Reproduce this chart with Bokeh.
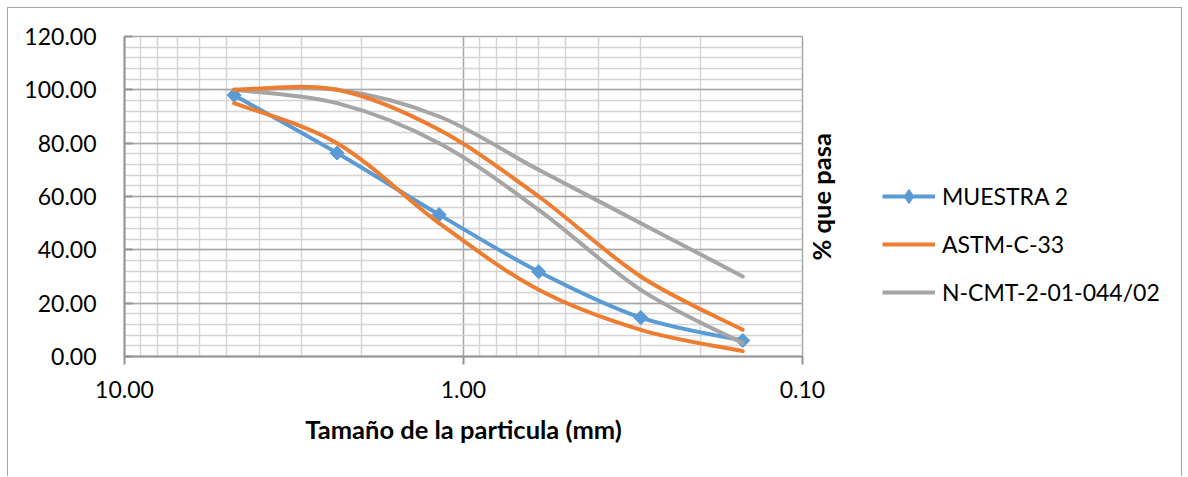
import math

import numpy as np
from bokeh.plotting import figure
from bokeh.layouts import row
from bokeh.models import (Range1d, FixedTicker, NumeralTickFormatter, ColumnDataSource,
                          Legend, LegendItem, LinearAxis)
from bokeh.embed import file_html
from bokeh.resources import INLINE

# Aberturas de malla (mm) y porcentajes que pasan
tamiz_mm = [4.75, 2.36, 1.18, 0.60, 0.30, 0.15]
muestra_2 = [98.0, 76.3, 53.2, 31.8, 14.6, 6.0]
astm_sup = [100, 100, 85, 60, 30, 10]
astm_inf = [95, 80, 50, 25, 10, 2]
ncmt_sup = [100, 100, 90, 70, 50, 30]
ncmt_inf = [100, 95, 80, 55, 25, 5]

x_ticks = [10, 1, 0.1]
x_minor = [k * d for d in (1, 0.1) for k in range(2, 10)]
y_ticks = list(range(0, 121, 20))
y_minor = list(range(0, 121, 4))

AZUL = "#5B9BD5"
NARANJA = "#ED7D31"
GRIS = "#A5A5A5"
BORDE = "1px solid #A6A6A6"
FUENTE = "Lato"
GROSOR = 4


def curva_suave(xs, ys):
    """Bezier segments (Catmull-Rom style) in log-x space, like a smoothed line."""
    u = [math.log10(v) for v in xs]
    n = len(u)
    d = dict(x0=[], y0=[], x1=[], y1=[], cx0=[], cy0=[], cx1=[], cy1=[])
    for i in range(n - 1):
        a = max(i - 1, 0)
        b = min(i + 2, n - 1)
        d["x0"].append(xs[i])
        d["y0"].append(ys[i])
        d["x1"].append(xs[i + 1])
        d["y1"].append(ys[i + 1])
        d["cx0"].append(10 ** (u[i] + (u[i + 1] - u[a]) / 6))
        d["cy0"].append(ys[i] + (ys[i + 1] - ys[a]) / 6)
        d["cx1"].append(10 ** (u[i + 1] - (u[b] - u[i]) / 6))
        d["cy1"].append(ys[i + 1] - (ys[b] - ys[i]) / 6)
    return ColumnDataSource(d)


# ---- main plot ------------------------------------------------------------
p = figure(width=849, height=469, x_axis_type="log",
           x_range=Range1d(10, 0.1), y_range=Range1d(0, 120),
           output_backend="svg", toolbar_location=None,
           min_border_left=116, min_border_right=55,
           min_border_top=28, min_border_bottom=121)
p.margin = (7, 0, 0, 7)
p.styles = {"border-top": BORDE, "border-left": BORDE}
p.background_fill_color = "white"
p.border_fill_color = "white"
p.outline_line_color = "#A6A6A6"
p.outline_line_width = 1.5

p.xaxis.ticker = FixedTicker(ticks=x_ticks, minor_ticks=x_minor)
p.yaxis.ticker = FixedTicker(ticks=y_ticks, minor_ticks=y_minor)
p.xaxis.formatter = NumeralTickFormatter(format="0.00")
p.yaxis.formatter = NumeralTickFormatter(format="0.00")
for ax in (p.xaxis[0], p.yaxis[0]):
    ax.axis_line_color = "#959595"
    ax.axis_line_width = 2
    ax.major_tick_line_color = "#959595"
    ax.major_tick_line_width = 2
    ax.minor_tick_line_color = None
    ax.major_label_text_font = FUENTE
    ax.major_label_text_font_size = "23px"
    ax.major_label_text_color = "black"
    ax.axis_label_text_font = FUENTE
    ax.axis_label_text_font_style = "bold"
    ax.axis_label_text_font_size = "25.5px"
    ax.axis_label_text_color = "black"
p.xaxis.major_tick_out = 8
p.xaxis.major_tick_in = 0
p.xaxis.major_label_standoff = 16
p.xaxis.axis_label = "Tamaño de la particula (mm)"
p.xaxis.axis_label_standoff = 13
p.yaxis.major_tick_out = 0
p.yaxis.major_tick_in = 8
p.yaxis.major_label_standoff = 24

for g in (p.xgrid[0], p.ygrid[0]):
    g.grid_line_color = "#A6A6A6"
    g.grid_line_width = 1.5
    g.minor_grid_line_color = "#D4D4D4"
    g.minor_grid_line_width = 1.5

# vertical title "% que pasa" on the right side of the plot area
titulo_y = LinearAxis(ticker=FixedTicker(ticks=[36], minor_ticks=[]),
                      major_label_overrides={36: "% que pasa"},
                      major_label_orientation=math.pi / 2,
                      major_label_standoff=12,
                      major_label_text_font=FUENTE,
                      major_label_text_font_style="bold",
                      major_label_text_font_size="25.5px",
                      major_label_text_color="black",
                      axis_line_color=None, major_tick_line_color=None,
                      minor_tick_line_color=None)
p.add_layout(titulo_y, "right")


def curva(ys, color):
    return p.bezier(x0="x0", y0="y0", x1="x1", y1="y1", cx0="cx0", cy0="cy0",
                    cx1="cx1", cy1="cy1", source=curva_suave(tamiz_mm, ys),
                    line_color=color, line_width=GROSOR, line_cap="round")


curva(muestra_2, AZUL)
p.scatter(tamiz_mm, muestra_2, marker="square", angle=math.pi / 4, size=10,
          fill_color=AZUL, line_color=AZUL)
curva(ncmt_inf, GRIS)
curva(ncmt_sup, GRIS)
curva(astm_sup, NARANJA)
curva(astm_inf, NARANJA)

# ---- legend panel ---------------------------------------------------------
q = figure(width=326, height=469, x_range=Range1d(0, 1), y_range=Range1d(0, 1),
           output_backend="svg", toolbar_location=None,
           x_axis_location=None, y_axis_location=None,
           min_border=0, min_border_left=0, min_border_right=0,
           min_border_top=0, min_border_bottom=0)
q.margin = (7, 0, 0, 0)
q.styles = {"border-top": BORDE, "border-right": BORDE}
q.grid.visible = False
q.outline_line_color = None
q.background_fill_color = "white"
q.border_fill_color = "white"

# legend swatches (no visible data of their own)
muestra_vacia = ColumnDataSource(dict(x=np.array([np.nan]), y=np.array([np.nan])))
l_muestra = q.line("x", "y", source=muestra_vacia, line_color=AZUL, line_width=GROSOR)
m_muestra = q.scatter("x", "y", source=muestra_vacia, marker="diamond",
                      size=19, fill_color=AZUL, line_color=AZUL)
l_astm = q.line("x", "y", source=muestra_vacia, line_color=NARANJA, line_width=GROSOR)
l_ncmt = q.line("x", "y", source=muestra_vacia, line_color=GRIS, line_width=GROSOR)

legend = Legend(items=[
    LegendItem(label="MUESTRA 2", renderers=[l_muestra, m_muestra]),
    LegendItem(label="ASTM-C-33", renderers=[l_astm]),
    LegendItem(label="N-CMT-2-01-044/02", renderers=[l_ncmt]),
], location=(26, 46))
legend.border_line_color = None
legend.background_fill_alpha = 0
legend.padding = 0
legend.margin = 0
legend.glyph_width = 53
legend.glyph_height = 36
legend.label_height = 36
legend.spacing = 12
legend.label_standoff = 7
legend.label_text_font = FUENTE
legend.label_text_font_size = "23px"
legend.label_text_color = "black"
legend.label_text_baseline = "middle"
q.add_layout(legend)

open("out.html", "w").write(file_html(row(p, q), INLINE))
